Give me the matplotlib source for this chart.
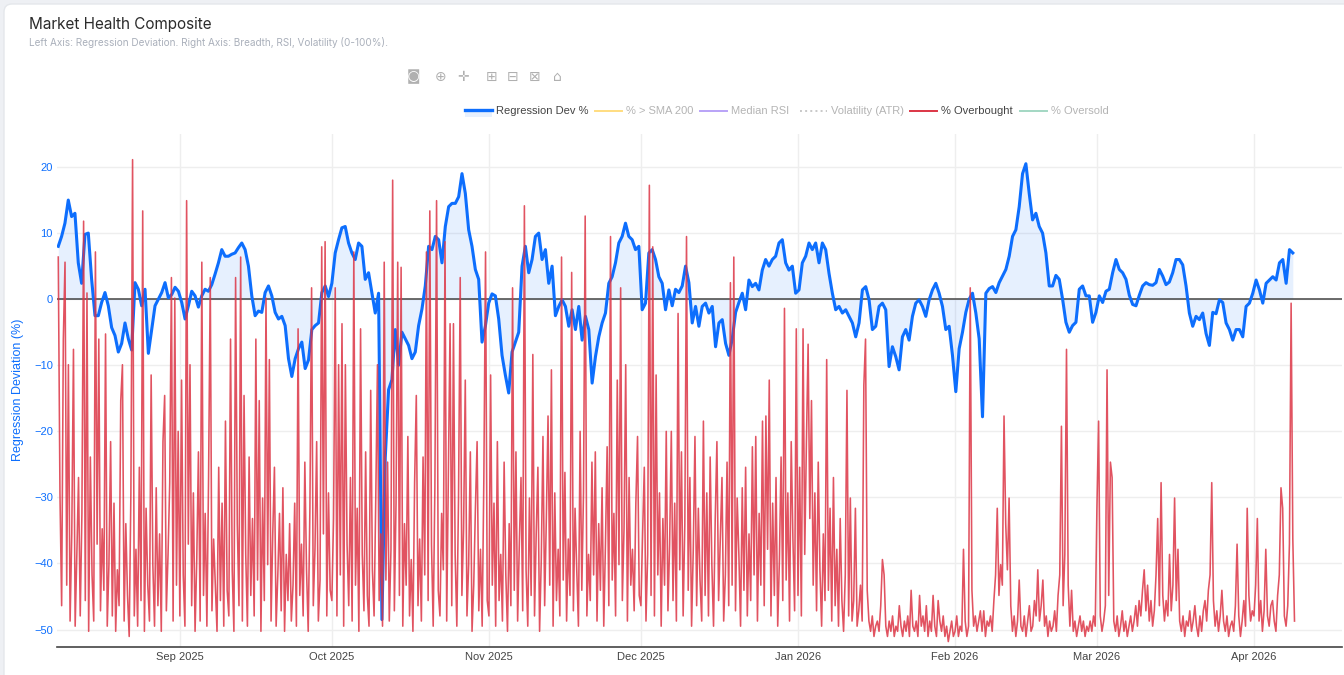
import matplotlib
matplotlib.use("Agg")
import matplotlib.pyplot as plt
import matplotlib.dates as mdates
from matplotlib.lines import Line2D
from matplotlib.patches import Rectangle, FancyBboxPatch
from matplotlib.transforms import IdentityTransform
import pandas as pd

W, H = 1344, 675

# Regression deviation (%) in four stretches (Aug -> Apr)
reg_dev_aug_oct = [
    8.0, 9.5, 11.5, 15.0, 12.5, 13.0, 5.5, 2.4, 9.8, 10.0,
    3.0, -2.5, -2.5, -0.5, 1.0, -1.0, -4.3, -5.5, -8.0, -6.7,
    -3.6, -6.0, -7.7, 2.5, 1.5, -1.0, 1.5, -8.2, -4.6, -1.0,
    0.0, 1.0, 2.5, 0.2, 0.7, 1.8, 1.2, -0.5, -3.0, -1.0,
    1.2, 0.5, -1.2, 0.5, 1.5, 1.2, 2.2, 3.8, 5.5, 7.5,
    6.5, 6.5, 6.8, 7.0, 7.8, 8.5, 7.5, 5.0, 0.5, -2.5,
    -1.8, -2.0, 1.0, 2.0, 0.5, -2.0, -3.0, -2.6, -4.0, -9.0,
    -11.7, -9.0, -7.5, -6.5, -10.5, -9.2, -4.6, -4.0, -3.6, 1.0,
    2.0, 0.4, 2.4, 7.0, 9.0,
]
reg_dev_oct_dec = [
    10.8, 11.0, 8.5, 7.0, 6.0, 8.5, 8.0, 3.0, 4.0, 1.0,
    -2.1, 0.9, -48.5, -24.0, -13.7, -12.2, -4.6, -10.0, -5.0, -6.0,
    -7.0, -9.0, -8.0, -4.0, -1.5, 2.0, 8.0, 7.5, 9.5, 9.0,
    5.5, 11.0, 14.0, 14.5, 14.5, 15.5, 19.0, 16.0, 10.5, 8.0,
    4.5, 3.0, -6.5, -4.1, -0.6, 0.8, 0.5, -3.0, -8.5, -11.5,
    -14.2, -8.0, -6.5, -5.0, 5.0, 8.0, 4.0, 6.0, 9.5, 10.0,
    6.0, 7.5, 2.4, 5.0, -2.5, -1.1, -0.1, -1.1, -4.1, -1.6,
    -4.6, -1.1, -6.2, -2.6, -4.6, -12.7, -8.7, -5.7, -3.6, -2.1,
    2.4, 3.4, 5.5, 8.5, 9.5, 11.5, 9.5, 9.0, 7.5, 8.0,
    -1.6, -0.6, 7.0, 7.5, 6.0, 3.4, 2.4, -1.6, 1.4, -1.0,
    1.5,
]
reg_dev_dec_feb = [
    1.0, 2.0, 5.0, 2.5, -3.6, -1.1, -4.1, -1.1, -0.6, -2.1,
    -1.1, -7.2, -3.6, -3.1, -6.7, -8.5, -6.0, -2.0, -0.5, 0.9,
    -1.6, 2.9, 1.9, 2.4, 1.4, 4.4, 6.0, 5.0, 6.0, 6.5,
    8.5, 9.0, 5.5, 4.4, 5.0, 0.9, 1.4, 5.5, 6.5, 8.5,
    7.5, 8.5, 5.5, 8.5, 7.5, 3.9, 0.9, -1.6, -1.1, -2.1,
    -1.6, -2.6, -3.6, -5.7, -3.6, 1.4, 1.9, -0.1, -4.6, -4.1,
    -1.1, -0.6, -1.6, -10.2, -7.2, -8.7, -10.7, -5.7, -4.6, -6.2,
    -2.6, -0.6, -0.1, -1.1, -2.6, -0.1, 1.4, 2.4, 0.9, -1.1,
    -4.6, -4.1, -8.5, -14.0, -7.5, -5.0, -2.0, 0.0, 0.9, -2.1,
    -6.0, -17.8, 0.9, 1.6, 1.9, 1.0, 2.5,
]
reg_dev_feb_apr = [
    3.5, 4.5, 6.5, 9.5, 10.5, 14.0, 19.0, 20.5, 16.0, 12.0,
    13.0, 11.0, 10.0, 7.0, 2.0, 2.0, 3.6, 3.0, 0.0, -3.5,
    -5.0, -4.0, -3.5, 1.5, 2.0, 0.5, 0.5, -3.5, -2.0, 0.5,
    -0.5, 1.2, 1.5, 4.0, 6.0, 4.5, 4.0, 3.0, 0.6, -0.8,
    -1.0, 0.6, 2.0, 2.5, 2.2, 2.1, 2.5, 4.5, 3.5, 2.2,
    2.6, 4.0, 6.0, 6.0, 5.2, 2.0, -2.1, -4.1, -2.6, -3.1,
    -2.1, -5.2, -7.0, -2.0, -2.2, -0.1, -0.5, -3.6, -4.6, -6.2,
    -4.6, -4.6, -5.7, -1.1, -0.6, 0.9, 2.9, 1.4, -0.6, 2.4,
    2.9, 3.4, 2.9, 5.5, 6.0, 2.4, 7.5, 7.0,
]

# % Overbought (right axis, 0-100), one value per 8 hours, by month
ob_aug = [
    76, 30, 8, 60, 75, 12, 55, 5, 22, 58, 4, 18, 33, 6, 26, 83, 9, 69, 3, 37,
    14, 5, 77, 20, 60, 7, 23, 11, 61, 4, 16, 40, 6, 28, 3, 15, 8, 48, 55, 5,
    24, 10, 2, 30, 95, 6, 19, 4, 35, 9, 85, 3, 27, 12, 5, 53, 16, 4, 31, 8,
    22, 3, 40, 49, 7, 18, 32, 72, 5, 68, 12, 42,
]
ob_sep = [
    6, 52, 14, 4, 87, 20, 55, 8, 30, 3, 17, 38, 5, 75, 10, 26, 4, 33, 72, 7,
    21, 12, 3, 35, 9, 28, 4, 44, 11, 6, 60, 15, 3, 72, 24, 8, 76, 5, 49, 18,
    4, 37, 10, 25, 6, 60, 13, 48, 3, 29, 9, 68, 16, 56, 5, 22, 35, 4, 14, 26,
    7, 31, 3, 18, 9, 24, 5, 12, 28, 4, 62, 10, 20, 6, 36, 15, 3, 27, 70, 8,
    19, 40, 5, 13, 78, 22, 79, 6, 30, 11,
]
ob_oct = [
    9, 25, 70, 6, 55, 14, 63, 4, 55, 20, 8, 33, 5, 77, 12, 27, 3, 62, 18, 7,
    38, 10, 4, 50, 15, 6, 29, 55, 9, 22, 4, 75, 13, 36, 5, 19, 91, 7, 28, 75,
    10, 74, 4, 24, 12, 41, 6, 17, 3, 32, 49, 8, 21, 5, 37, 14, 77, 9, 85, 20,
    4, 31, 87, 11, 6, 26, 15, 79, 5, 34, 63, 8, 63, 18, 4, 29, 72, 10, 23, 52,
    6, 16, 38, 3, 12, 27, 40, 7, 19, 4, 33, 77, 9,
]
ob_nov = [
    6, 53, 12, 28, 4, 40, 9, 18, 5, 36, 14, 3, 24, 8, 70, 11, 38, 5, 20, 33,
    7, 86, 15, 4, 29, 10, 57, 6, 22, 35, 3, 17, 41, 8, 25, 45, 12, 54, 4, 30,
    9, 19, 6, 76, 13, 34, 5, 21, 10, 73, 7, 27, 15, 4, 42, 11, 30, 84, 6, 18,
    9, 36, 14, 38, 5, 24, 11, 31, 4, 20, 39, 8, 80, 13, 26, 6, 52, 16, 70, 9,
    23, 55, 5, 33, 12, 19, 7, 28, 41, 10,
]
ob_dec = [
    8, 22, 35, 5, 18, 90, 10, 78, 6, 53, 14, 30, 4, 25, 12, 42, 7, 20, 42, 9,
    28, 5, 65, 15, 38, 6, 24, 80, 11, 33, 4, 19, 41, 8, 27, 13, 5, 44, 10, 30,
    6, 37, 16, 4, 25, 40, 9, 21, 33, 5, 14, 36, 8, 71, 12, 76, 7, 29, 18, 4,
    31, 11, 35, 6, 22, 9, 39, 14, 41, 5, 26, 12, 44, 8, 45, 19, 52, 6, 28, 10,
    33, 4, 17, 37, 9, 66, 13, 30, 5, 40, 21, 7, 62,
]
ob_jan = [
    10, 35, 6, 62, 18, 40, 59, 25, 48, 12, 30, 7, 36, 15, 4, 22, 9, 56, 11, 27,
    5, 33, 8, 19, 4, 25, 9, 3, 14, 50, 6, 29, 5, 9, 27, 4, 7, 12, 5, 51,
    60, 11, 5, 3, 6, 2, 4, 5, 3, 8, 17, 14, 4, 2, 5, 3, 6, 2, 4, 3,
    8, 4, 2, 5, 3, 6, 2, 11, 4, 3, 5, 2, 10, 4, 6, 3, 8, 2, 5, 3,
    10, 4, 2, 9, 5, 3, 6, 2, 4, 1, 3, 5, 2,
]
ob_feb = [
    3, 6, 2, 4, 3, 19, 5, 2, 4, 70, 11, 4, 6, 3, 5, 7, 3, 7, 2, 5,
    4, 6, 3, 9, 14, 27, 10, 16, 12, 45, 24, 15, 29, 8, 3, 6, 2, 5, 13, 4,
    3, 6, 2, 5, 8, 3, 4, 9, 6, 15, 5, 8, 13, 4, 6, 2, 5, 3, 4, 7,
    3, 10, 14, 43, 8, 18, 58, 12, 4, 11, 3, 5, 2, 4, 6, 3, 5, 2, 4, 3,
    5, 3, 6, 4,
]
ob_mar = [
    27, 44, 6, 3, 5, 8, 54, 10, 36, 33, 5, 3, 6, 2, 4, 7, 3, 5, 2, 4,
    6, 3, 5, 8, 4, 9, 6, 11, 15, 7, 12, 5, 9, 4, 7, 14, 25, 8, 32, 10,
    5, 9, 6, 18, 7, 12, 29, 9, 19, 5, 3, 6, 2, 5, 4, 7, 3, 5, 8, 4,
    2, 6, 3, 7, 9, 5, 11, 14, 32, 9, 4, 7, 3, 6, 11, 5, 3, 6, 2, 4,
    5, 3, 8, 20, 6, 2, 5, 9, 4, 27, 10, 5, 7,
]
ob_apr = [
    6, 12, 25, 5, 9, 3, 7, 19, 6, 4, 8, 9, 5, 3, 10, 14, 31, 27, 6, 4,
    8, 20, 67, 21, 5,
]

legend_names = ["Regression Dev %", "% > SMA 200", "Median RSI",
                "Volatility (ATR)", "% Overbought", "% Oversold"]

reg_dev = reg_dev_aug_oct + reg_dev_oct_dec + reg_dev_dec_feb + reg_dev_feb_apr
reg_dates = pd.date_range("2025-08-08 00:00", "2026-04-08 16:00", periods=len(reg_dev))
overbought = ob_aug + ob_sep + ob_oct + ob_nov + ob_dec + ob_jan + ob_feb + ob_mar + ob_apr
ob_dates = pd.date_range("2025-08-08 00:00", periods=len(overbought), freq="8h")

BLUE = "#0d6efd"
RED = "#dc3545"
TICK_FONT = ["Liberation Sans", "DejaVu Sans"]
TITLE_FONT = ["Inter", "DejaVu Sans"]


def fx(px):
    return px / W


def fy(py):
    return 1 - py / H


fig = plt.figure(figsize=(W / 100, H / 100), dpi=100)
fig.patch.set_facecolor("#eef0f4")
card = FancyBboxPatch((4, -20), W + 20, H - 4 + 20,
                      boxstyle="round,pad=0,rounding_size=8",
                      transform=IdentityTransform(),
                      facecolor="white", edgecolor="#e4e7eb", lw=1, zorder=-10)
fig.add_artist(card)

ax = fig.add_axes([fx(57), fy(646.7), fx(1285), (646.7 - 134) / H])
ax.set_facecolor("none")
for s in ax.spines.values():
    s.set_visible(False)

ax.fill_between(reg_dates, reg_dev, 0, color=BLUE, alpha=0.1, lw=0, zorder=1)
ax.axhline(0, color="#444444", lw=1.1, zorder=2)
ax.plot(reg_dates, reg_dev, color=BLUE, lw=2.2, zorder=3, solid_joinstyle="round")

ax.set_ylim(-52.6, 25.0)
ax.set_yticks(range(-50, 21, 10))
ax.set_xlim(pd.Timestamp("2025-08-07 18:00"), pd.Timestamp("2026-04-18 09:00"))
ax.xaxis.set_major_locator(mdates.MonthLocator())
ax.xaxis.set_major_formatter(mdates.DateFormatter("%b %Y"))
ax.grid(True, color="#eeeeee", lw=1, zorder=0)
ax.set_axisbelow(True)
ax.tick_params(axis="both", length=0)
ax.tick_params(axis="x", pad=4, labelsize=8, labelcolor="#444444")
ax.tick_params(axis="y", pad=3, labelsize=8, labelcolor=BLUE)
for lab in ax.get_xticklabels() + ax.get_yticklabels():
    lab.set_family(TICK_FONT)

ax2 = ax.twinx()
ax2.set_ylim(0, 100)
ax2.set_axis_off()
ax2.plot(ob_dates, overbought, color=RED, lw=1.15, alpha=0.85, zorder=4)
ax2.axhline(0, color="#444444", lw=1.2, clip_on=False, zorder=5)

fig.text(fx(18), fy(390), "Regression Deviation (%)", rotation=90,
         ha="center", va="center", fontsize=9, color=BLUE, family=TICK_FONT)

# title block
fig.text(fx(29), fy(24), "Market Health Composite", fontsize=11,
         color="#2b2b2b", va="center", family=TITLE_FONT)
fig.text(fx(29), fy(42),
         "Left Axis: Regression Deviation. Right Axis: Breadth, RSI, Volatility (0-100%).",
         fontsize=7.2, color="#aab0bb", va="center", family=TITLE_FONT)

# modebar icons
for xi, glyph in zip([413, 441, 463, 492, 513, 535, 557],
                     ["\u25d9", "\u2295", "\u271b", "\u229e", "\u229f", "\u22a0", "\u2302"]):
    fig.text(fx(xi), fy(77), glyph, fontsize=10, color="#b0b0b0",
             ha="center", va="center", family=["DejaVu Sans"])

# legend row
leg_y = 111
leg_items = [
    (465, legend_names[0], BLUE, "-", True),
    (595, legend_names[1], "#ffdd80", "-", False),
    (700, legend_names[2], "#b9a3f7", "-", False),
    (800, legend_names[3], "#c8c8c8", ":", False),
    (910, legend_names[4], RED, "-", True),
    (1020, legend_names[5], "#a3d7c3", "-", False),
]
for x0, name, col, ls, active in leg_items:
    if x0 == 465:
        fig.add_artist(Rectangle((fx(x0), fy(leg_y + 6)), fx(27), 7 / H,
                                 transform=fig.transFigure, facecolor="#e7f0fe",
                                 edgecolor="none"))
        fig.add_artist(Line2D([fx(x0), fx(x0 + 27)], [fy(leg_y - 1.5)] * 2,
                              transform=fig.transFigure, color=col, lw=2.4))
    else:
        fig.add_artist(Line2D([fx(x0), fx(x0 + 27)], [fy(leg_y)] * 2,
                              transform=fig.transFigure, color=col, lw=1.4,
                              linestyle=ls))
    fig.text(fx(x0 + 31), fy(leg_y), name, fontsize=8,
             color="#444444" if active else "#b4b4b4",
             ha="left", va="center", family=TICK_FONT)

fig.savefig("out.png", dpi=100, facecolor=fig.get_facecolor())
